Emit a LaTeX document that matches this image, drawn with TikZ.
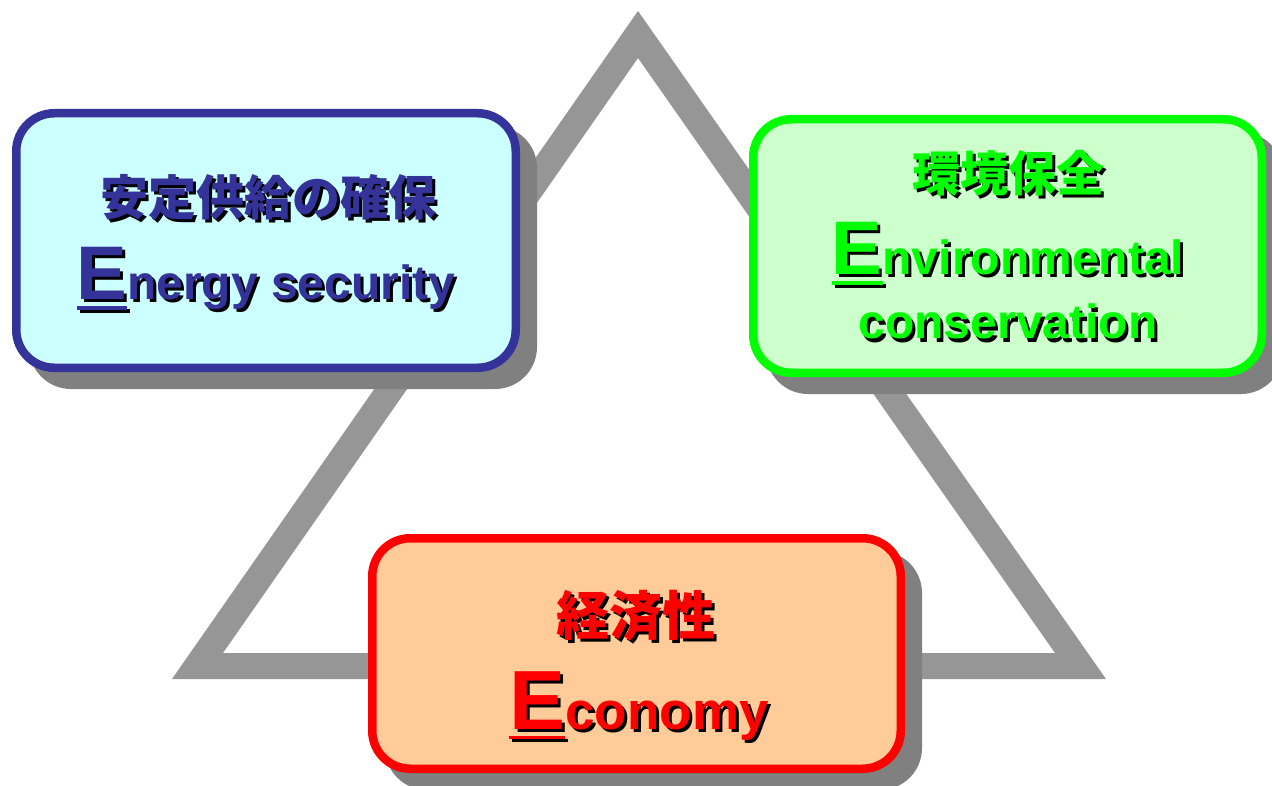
\documentclass[tikz,border=0pt]{standalone}
\usepackage{fontspec}
\setmainfont{Liberation Sans}
\newfontfamily\cjk{Noto Sans CJK JP}
\usetikzlibrary{calc}
\definecolor{tri}{RGB}{150,150,150}
\definecolor{shd}{RGB}{128,128,128}
\definecolor{navy}{RGB}{51,51,153}
\definecolor{lcyan}{RGB}{204,255,255}
\definecolor{lgreen}{RGB}{204,255,204}
\definecolor{lorange}{RGB}{255,204,153}
\definecolor{grn}{RGB}{0,255,0}
\definecolor{rd}{RGB}{255,0,0}
\newcommand\bigE[1]{\setbox0\hbox{\fontsize{#1}{#1}\selectfont E}\rlap{\rule[-10pt]{\wd0}{3.5pt}}\box0}
\newcommand\shtxt[1]{\leavevmode\rlap{\kern3pt\raisebox{-3pt}{\color{black}#1}}#1}
\pgfdeclarelayer{bg}
\pgfsetlayers{bg,main}
\tikzset{
  box/.style={rounded corners=38pt, line width=8.5pt, inner sep=0pt},
  boxshadow/.style={fill=shd, rounded corners=42pt},
  jp/.style={inner sep=0pt, font=\cjk\bfseries\fontsize{48}{48}\selectfont},
  jpb/.style={inner sep=0pt, font=\cjk\bfseries\fontsize{53}{53}\selectfont},
  en/.style={inner sep=0pt, anchor=base, font=\bfseries\fontsize{48}{48}\selectfont},
  enb/.style={inner sep=0pt, anchor=base, font=\bfseries\fontsize{53}{53}\selectfont}
}
\begin{document}
\begin{tikzpicture}[x=1pt,y=-1pt]
\useasboundingbox (0,0) rectangle (1272,786);

% boxes
\node[box, draw=navy, fill=lcyan, minimum width=499.5pt, minimum height=254.5pt] (L) at (266,240.5) {};
\node[box, draw=grn, fill=lgreen, minimum width=508.5pt, minimum height=253.5pt] (R) at (1007.5,246) {};
\node[box, draw=rd, fill=lorange, minimum width=528.5pt, minimum height=230.5pt] (B) at (636.5,653.5) {};

\begin{pgfonlayer}{bg}
  \fill[tri, even odd rule] (638,11) -- (172,679) -- (1106,679) -- cycle
                            (638,58) -- (223,653) -- (1055,653) -- cycle;
  \fill[boxshadow] ($(L.north west)+(17,17)$) rectangle ($(L.south east)+(17,17)$);
  \fill[boxshadow] ($(R.north west)+(17,17)$) rectangle ($(R.south east)+(17,17)$);
  \fill[boxshadow] ($(B.north west)+(17,17)$) rectangle ($(B.south east)+(17,17)$);
\end{pgfonlayer}

% texts
\node[jp, text=navy] (Ljp) at (268,199) {\shtxt{安定供給の確保}};
\node[en, text=navy] (Len) at (266,300) {\shtxt{\bigE{76}nergy security}};

\node[jp, text=grn] (Rjp) at (1008,175) {\shtxt{環境保全}};
\node[en, text=grn] (Ren) at (1008,275) {\shtxt{\bigE{76}nvironmental}};
\node[en, text=grn] (Ren2) at (1008,339) {\shtxt{conservation}};

\node[jpb, text=rd] (Bjp) at (636,617) {\shtxt{経済性}};
\node[enb, text=rd] (Ben) at (639,729) {\shtxt{\bigE{84}conomy}};
\end{tikzpicture}
\end{document}
